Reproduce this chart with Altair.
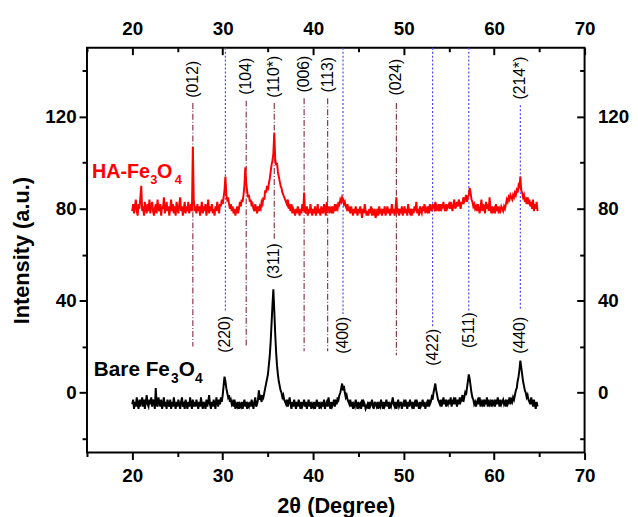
import altair as alt
import pandas as pd

FONT = "Liberation Sans"

# ---- XRD traces (2theta from 20.0 in 0.1 deg steps) ----
red_vals = [
    79, 82, 78, 81, 84, 79, 77, 82, 80, 85,
    90, 79, 81, 77, 83, 80, 78, 82, 79, 84,
    78, 81, 83, 79, 77, 80, 82, 78, 84, 80,
    79, 82, 77, 81, 80, 85, 78, 80, 83, 79,
    81, 77, 80, 84, 79, 82, 78, 81, 77, 83,
    80, 78, 82, 85, 79, 81, 77, 80, 83, 78,
    81, 79, 83, 78, 80, 82, 79, 107, 84, 79,
    80, 78, 82, 79, 81, 77, 80, 83, 78, 81,
    79, 82, 77, 80, 84, 78, 81, 79, 82, 78,
    80, 77, 81, 79, 83, 80, 78, 82, 81, 84,
    82, 85, 88, 94, 86, 84, 85, 82, 80, 82,
    79, 81, 78, 80, 77, 79, 81, 78, 80, 83,
    81, 84, 83, 86, 90, 98, 91, 88, 85, 86,
    83, 84, 81, 82, 80, 79, 82, 80, 78, 81,
    79, 81, 80, 83, 82, 85, 84, 88, 87, 90,
    88, 91, 93, 96, 99, 101, 104, 113, 102, 99,
    100, 96, 94, 92, 90, 89, 87, 86, 85, 84,
    83, 82, 84, 80, 81, 79, 82, 78, 80, 79,
    77, 80, 78, 81, 79, 77, 80, 78, 82, 79,
    87, 79, 78, 81, 77, 80, 78, 82, 79, 77,
    80, 78, 81, 77, 79, 82, 78, 80, 77, 81,
    79, 78, 82, 80, 77, 83, 79, 81, 78, 80,
    79, 81, 78, 80, 82, 79, 81, 80, 83, 82,
    84, 83, 85, 84, 82, 83, 81, 80, 82, 79,
    80, 78, 81, 79, 77, 80, 78, 81, 79, 77,
    80, 78, 81, 79, 76, 80, 78, 82, 79, 77,
    79, 77, 80, 78, 81, 77, 79, 78, 80, 76,
    78, 80, 77, 81, 78, 79, 77, 80, 78, 81,
    77, 79, 81, 78, 80, 77, 79, 82, 78, 80,
    77, 80, 85, 78, 79, 77, 80, 78, 81, 77,
    79, 81, 78, 80, 77, 82, 79, 78, 80, 77,
    80, 78, 81, 79, 83, 78, 80, 77, 81, 79,
    78, 81, 79, 82, 78, 80, 79, 81, 78, 82,
    80, 79, 82, 81, 80, 83, 79, 81, 80, 82,
    79, 82, 80, 81, 83, 80, 79, 82, 80, 81,
    82, 80, 83, 81, 79, 82, 84, 80, 81, 83,
    81, 84, 82, 80, 83, 82, 85, 83, 84, 86,
    83, 85, 86, 89, 87, 84, 83, 81, 82, 80,
    81, 79, 82, 80, 78, 81, 84, 79, 82, 80,
    78, 83, 80, 82, 79, 85, 80, 78, 81, 79,
    80, 78, 82, 79, 81, 78, 80, 79, 81, 80,
    79, 81, 80, 82, 84, 83, 85, 84, 86, 85,
    84, 86, 85, 87, 86, 88, 87, 90, 89, 94,
    88, 87, 85, 86, 83, 84, 82, 85, 83, 84,
    81, 83, 80, 84, 79, 82, 80, 83, 79,
]

black_vals = [
    -5, -3, -7, -4, -6, -2, -5, -7, -3, -6,
    -4, -2, -6, -3, -7, -4, -1, -5, -6, -3,
    -5, -2, -6, -3, -4, -7, 2, -5, -6, -2,
    -4, -6, -3, -7, -5, -2, -6, -4, -7, -3,
    -5, -6, -3, -7, -4, -6, -2, -5, -7, -4,
    -6, -3, -5, -7, -4, -2, -6, -5, -7, -3,
    -5, -7, -4, -6, -2, -5, -7, -3, -6, -4,
    -6, -3, -5, -7, -4, -6, -2, -5, -7, -4,
    -5, -7, -3, -6, -4, -1, -5, -7, -4, -6,
    -3, -5, -7, -2, -4, -6, -3, -5, -2, -4,
    -1, 3, 7, 5, 2, 0, -2, -1, -4, -3,
    -5, -4, -6, -3, -7, -5, -6, -4, -7, -5,
    -6, -4, -7, -5, -3, -6, -4, -7, -5, -6,
    -4, -6, -3, -5, -7, -4, -2, -6, -5, -3,
    1, -3, -2, -4, -1, -2, 0, 2, 4, 6,
    8, 12, 16, 22, 30, 38, 45, 36, 26, 18,
    12, 8, 5, 3, 1, 0, -2, -1, -3, -4,
    -5, -3, -6, -4, -2, -5, -7, -4, -6, -3,
    -5, -7, -4, -6, -3, -5, -7, -4, -6, -5,
    -3, -6, -4, -7, -5, -3, -6, -4, -7, -5,
    -6, -4, -7, -5, -3, -6, -4, -7, -5, -6,
    -4, -6, -3, -7, -5, -4, -6, -2, -5, -7,
    -4, -6, -5, -3, -6, -4, -5, -2, -3, -1,
    0, 2, 4, 1, 3, 0, -2, -1, -3, -4,
    -5, -3, -6, -4, -7, -5, -6, -3, -5, -7,
    -4, -6, -5, -7, -3, -6, -4, -5, -7, -6,
    -5, -7, -4, -6, -5, -3, -6, -7, -4, -5,
    -6, -4, -7, -5, -6, -3, -5, -7, -4, -6,
    -5, -3, -6, -4, -7, -5, -6, -4, -2, -5,
    -6, -4, -7, -5, -3, -6, -5, -4, -7, -5,
    -4, -6, -3, -5, -7, -4, -6, -3, -5, -6,
    -4, -7, -5, -3, -6, -4, -5, -7, -4, -6,
    -5, -3, -6, -4, -7, -5, -4, -6, -3, -5,
    -4, -2, -3, 0, 2, 4, 1, -1, -3, -4,
    -5, -3, -6, -4, -2, -5, -3, -6, -4, -5,
    -3, -5, -2, -6, -4, -3, -5, -2, -4, -6,
    -3, -5, -2, -4, -3, -1, -4, -2, 0, -1,
    2, 5, 8, 6, 3, 0, -2, -3, -5, -4,
    -6, -4, -3, -5, -2, -6, -4, -5, -3, -6,
    -4, -5, -2, -6, -3, -5, -4, -6, -3, -5,
    -4, -6, -3, -5, -2, -4, -6, -3, -5, -4,
    -3, -5, -4, -6, -3, -5, -4, -2, -5, -3,
    -4, -2, -3, -1, 1, 2, 5, 7, 10, 14,
    11, 8, 5, 3, 1, 0, -2, -1, -3, -4,
    -5, -2, -4, -6, -3, -5, -7, -4, -6,
]

theta = [round(20.0 + 0.1 * i, 1) for i in range(len(red_vals))]

# ---- reference lines (hkl) ----
ref_pos = [26.7, 32.6, 35.7, 39.0, 41.6, 49.2, 30.3, 43.3, 53.2, 57.2, 62.9]
ref_top = [126, 127, 126, 128, 128, 126, 150, 150, 150, 150, 125]
ref_bot = [20.1, 20.5, 67, 18, 18, 16.3, 35.1, 34.2, 28.7, 35.5, 36.4]
ref_kind = ["h", "h", "h", "h", "h", "h", "m", "m", "m", "m", "m"]

top_labels = ["(012)", "(104)", "(110*)", "(006)", "(113)", "(024)", "(214*)"]
top_pos = [26.7, 32.6, 35.7, 39.0, 41.6, 49.2, 62.9]
top_y = [128.3, 129.6, 128.3, 130.5, 130.5, 129.2, 127.5]

bot_labels = ["(220)", "(311)", "(400)", "(422)", "(511)", "(440)"]
bot_pos = [30.3, 35.7, 43.3, 53.2, 57.2, 62.9]
bot_y = [33.4, 65, 33, 27.8, 35, 33]

name_text = ["HA-Fe", "3", "O", "4", "Bare Fe", "3", "O", "4"]
name_x = [15.55, 21.98, 22.75, 24.71, 15.76, 24.28, 25.15, 26.95]
name_y = [93.3, 90.7, 93.3, 90.7, 7.3, 4.3, 7.3, 4.3]
name_size = [20, 13, 20, 13, 21, 14, 21, 14]
name_color = ["#ff0000"] * 4 + ["#000000"] * 4

x_major = [20, 30, 40, 50, 60, 70]
x_minor = [15, 25, 35, 45, 55, 65]
y_major = [0, 40, 80, 120]
y_minor = [-20, 20, 60, 100, 140]

XS = alt.Scale(domain=[15, 70], nice=False, zero=False)
YS = alt.Scale(domain=[-26, 150], nice=False, zero=False)

common = dict(domain=False, grid=False, tickColor="black", tickWidth=2,
              labelFont=FONT, labelFontWeight="bold", labelFontSize=19,
              labelColor="black", labelOverlap=False, labelFlush=False,
              format="d", titleFont=FONT, titleFontWeight="bold",
              titleColor="black")

ax_bottom = alt.Axis(orient="bottom", values=x_major, tickSize=7, labelPadding=7,
                     title="2θ (Degree)", titleFontSize=22, titlePadding=11, **common)
ax_bottom_min = alt.Axis(orient="bottom", values=x_minor, tickSize=4, labels=False,
                         title=None, **common)
ax_left = alt.Axis(orient="left", values=y_major, tickSize=8, labelPadding=3,
                   title="Intensity (a.u.)", titleFontSize=22, titlePadding=12, **common)
ax_left_min = alt.Axis(orient="left", values=y_minor, tickSize=5, labels=False,
                       title=None, **common)
ax_top = alt.Axis(orient="top", values=x_major, tickSize=7, offset=-7, labelPadding=9,
                  title=None, **common)
ax_top_min = alt.Axis(orient="top", values=x_minor, tickSize=4, offset=-4, labels=False,
                      title=None, **common)
ax_right = alt.Axis(orient="right", values=y_major, tickSize=8, offset=-8, labelPadding=13,
                    title=None, **common)
ax_right_min = alt.Axis(orient="right", values=y_minor, tickSize=5, offset=-5, labels=False,
                        title=None, **common)

df_red = pd.DataFrame({"t": theta, "v": red_vals})
df_black = pd.DataFrame({"t": theta, "v": black_vals[:len(theta)]})
df_ref = pd.DataFrame({"x": ref_pos, "y1": ref_top, "y2": ref_bot, "k": ref_kind})
df_top = pd.DataFrame({"x": top_pos, "y": top_y, "lab": top_labels})
df_bot = pd.DataFrame({"x": bot_pos, "y": bot_y, "lab": bot_labels})
df_name = pd.DataFrame({"x": name_x, "y": name_y, "txt": name_text,
                        "fs": name_size, "col": name_color})

rules = alt.Chart(df_ref).mark_rule(strokeWidth=1.2).encode(
    x=alt.X("x:Q", scale=XS, axis=ax_bottom_min),
    y=alt.Y("y1:Q", scale=YS, axis=ax_left_min),
    y2="y2:Q",
    color=alt.Color("k:N", scale=alt.Scale(domain=["h", "m"], range=["#8b3a4a", "#4a4aff"]), legend=None),
    strokeDash=alt.StrokeDash("k:N", scale=alt.Scale(domain=["h", "m"], range=[[6, 2, 1, 2], [2, 2]]), legend=None),
)

red_line = alt.Chart(df_red).mark_line(color="#ff0000", strokeWidth=2).encode(
    x=alt.X("t:Q", scale=XS, axis=ax_bottom),
    y=alt.Y("v:Q", scale=YS, axis=ax_left),
)

black_line = alt.Chart(df_black).mark_line(color="#000000", strokeWidth=2).encode(
    x=alt.X("t:Q", scale=XS, axis=ax_top),
    y=alt.Y("v:Q", scale=YS, axis=ax_right),
)

top_text = alt.Chart(df_top).mark_text(angle=270, align="left", baseline="middle",
                                       font=FONT, fontSize=16, color="black").encode(
    x=alt.X("x:Q", scale=XS, axis=ax_top_min),
    y=alt.Y("y:Q", scale=YS, axis=ax_right_min),
    text="lab:N",
)

bot_text = alt.Chart(df_bot).mark_text(angle=270, align="right", baseline="middle",
                                       font=FONT, fontSize=16, color="black").encode(
    x=alt.X("x:Q", scale=XS, axis=None),
    y=alt.Y("y:Q", scale=YS, axis=None),
    text="lab:N",
)

names = alt.Chart(df_name).mark_text(align="left", baseline="alphabetic",
                                     font=FONT, fontWeight="bold").encode(
    x=alt.X("x:Q", scale=XS, axis=None),
    y=alt.Y("y:Q", scale=YS, axis=None),
    text="txt:N",
    size=alt.Size("fs:Q", scale=None),
    color=alt.Color("col:N", scale=None),
)

chart = alt.layer(rules, red_line, black_line, top_text, bot_text, names).resolve_axis(
    x="independent", y="independent"
).properties(
    width=504, height=410,
    autosize="none",
    padding={"left": 80, "top": 37, "right": 46, "bottom": 62},
    background="white",
).configure_view(stroke="black", strokeWidth=2)

chart.save("out.html", embed_options={"renderer": "svg", "actions": False})
